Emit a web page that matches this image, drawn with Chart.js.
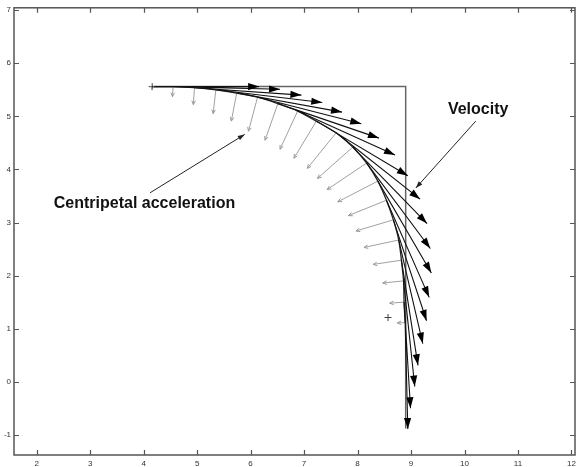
<!DOCTYPE html>
<html>
<head>
<meta charset="utf-8">
<script src="https://cdn.jsdelivr.net/npm/chart.js@4/dist/chart.umd.min.js"></script>
<style>
  html, body { margin: 0; padding: 0; background: #fff; }
  #wrap { width: 583px; height: 467px; }
</style>
</head>
<body>
<div id="wrap"><canvas id="c" width="583" height="467"></canvas></div>
<script>
// ---- data ----
const xTicks = [2, 3, 4, 5, 6, 7, 8, 9, 10, 11, 12];
const yTicks = [-1, 0, 1, 2, 3, 4, 5, 6, 7];

// trajectory points (bases of the vectors)
const trajX = [4.16, 4.55, 4.95, 5.35, 5.74, 6.13, 6.51, 6.88, 7.23, 7.60, 7.91, 8.17, 8.38, 8.54, 8.67, 8.77, 8.82, 8.86, 8.87, 8.89];
const trajY = [5.56, 5.56, 5.54, 5.50, 5.44, 5.36, 5.24, 5.10, 4.91, 4.69, 4.42, 4.12, 3.78, 3.42, 3.05, 2.67, 2.29, 1.90, 1.50, 1.11];

// velocity vectors (tangent)
const velX = [2.00, 2.00, 2.00, 1.99, 1.97, 1.94, 1.89, 1.82, 1.71, 1.57, 1.39, 1.19, 1.00, 0.80, 0.62, 0.45, 0.31, 0.21, 0.12, 0.05];
const velY = [0.00, -0.05, -0.14, -0.24, -0.36, -0.50, -0.65, -0.83, -1.03, -1.25, -1.44, -1.61, -1.73, -1.83, -1.90, -1.95, -1.98, -1.99, -2.00, -2.00];

// centripetal acceleration vectors
const accX = [0.00, -0.01, -0.02, -0.05, -0.10, -0.17, -0.24, -0.33, -0.42, -0.54, -0.66, -0.74, -0.75, -0.71, -0.70, -0.65, -0.53, -0.39, -0.27, -0.15];
const accY = [-0.06, -0.19, -0.32, -0.45, -0.53, -0.64, -0.69, -0.72, -0.70, -0.67, -0.59, -0.50, -0.39, -0.29, -0.21, -0.14, -0.08, -0.04, -0.02, 0.00];

// bracket lines and "+" markers
const boxX = [4.16, 8.90, 8.90];
const boxY = [5.56, 5.56, -0.88];
const markX = [4.16, 8.57];
const markY = [5.56, 1.21];

const labelVelocity = 'Velocity';
const labelAccel = 'Centripetal acceleration';

// ---- build datasets ----
function segs(dx, dy) {
  const out = [];
  trajX.forEach((x, i) => {
    const y = trajY[i];
    out.push({ x: x, y: y }, { x: x + dx[i], y: y + dy[i] }, { x: x + dx[i], y: null });
  });
  return out;
}
const trajPts = trajX.map((x, i) => ({ x: x, y: trajY[i] }));
const boxPts = boxX.map((x, i) => ({ x: x, y: boxY[i] }));
const markPts = markX.map((x, i) => ({ x: x, y: markY[i] }));

const FONT = "'Liberation Sans', Arial, sans-serif";

function head(ctx, x0, y0, x1, y1, len, hw, fill) {
  const dx = x1 - x0, dy = y1 - y0;
  const L = Math.hypot(dx, dy);
  if (L < 0.5) return;
  const ux = dx / L, uy = dy / L;
  const bx = x1 - ux * len, by = y1 - uy * len;
  const px = -uy * hw, py = ux * hw;
  ctx.beginPath();
  if (fill) {
    ctx.moveTo(x1, y1);
    ctx.lineTo(bx + px, by + py);
    ctx.lineTo(bx - px, by - py);
    ctx.closePath();
    ctx.fill();
  } else {
    ctx.moveTo(bx + px, by + py);
    ctx.lineTo(x1, y1);
    ctx.lineTo(bx - px, by - py);
    ctx.stroke();
  }
}

const arrowPlugin = {
  id: 'arrows',
  afterDatasetsDraw(chart) {
    const { ctx, scales: { x, y } } = chart;
    ctx.save();
    // acceleration heads (gray, small)
    ctx.strokeStyle = '#9a9a9a';
    ctx.lineWidth = 1;
    trajX.forEach((tx, i) => {
      const x0 = x.getPixelForValue(tx), y0 = y.getPixelForValue(trajY[i]);
      const x1 = x.getPixelForValue(tx + accX[i]), y1 = y.getPixelForValue(trajY[i] + accY[i]);
      head(ctx, x0, y0, x1, y1, 4, 1.8, false);
    });
    // velocity heads (black, filled)
    ctx.fillStyle = '#000';
    trajX.forEach((tx, i) => {
      const x0 = x.getPixelForValue(tx), y0 = y.getPixelForValue(trajY[i]);
      const x1 = x.getPixelForValue(tx + velX[i]), y1 = y.getPixelForValue(trajY[i] + velY[i]);
      head(ctx, x0, y0, x1, y1, 11, 3.6, true);
    });
    // annotations
    ctx.strokeStyle = '#222';
    ctx.fillStyle = '#222';
    ctx.lineWidth = 1;
    const ann = [
      [10.21, 4.91, 9.09, 3.65],
      [4.12, 3.56, 5.89, 4.66]
    ];
    ann.forEach(a => {
      const x0 = x.getPixelForValue(a[0]), y0 = y.getPixelForValue(a[1]);
      const x1 = x.getPixelForValue(a[2]), y1 = y.getPixelForValue(a[3]);
      ctx.beginPath(); ctx.moveTo(x0, y0); ctx.lineTo(x1, y1); ctx.stroke();
      head(ctx, x0, y0, x1, y1, 7, 2.4, true);
    });
    ctx.fillStyle = '#111';
    ctx.font = 'bold 16px ' + FONT;
    ctx.textAlign = 'left';
    ctx.textBaseline = 'alphabetic';
    ctx.fillText(labelVelocity, x.getPixelForValue(9.69), y.getPixelForValue(5.04));
    ctx.fillText(labelAccel, x.getPixelForValue(2.32), y.getPixelForValue(3.27));
    ctx.restore();
  },
  afterDraw(chart) {
    const { ctx, chartArea: a, scales: { x, y } } = chart;
    ctx.save();
    ctx.strokeStyle = '#555';
    ctx.lineWidth = 1.5;
    ctx.strokeRect(a.left, a.top, a.right - a.left, a.bottom - a.top);
    ctx.lineWidth = 1.2;
    ctx.beginPath();
    xTicks.forEach(v => {
      const p = Math.round(x.getPixelForValue(v)) + 0.5;
      ctx.moveTo(p, a.bottom); ctx.lineTo(p, a.bottom - 5);
      ctx.moveTo(p, a.top); ctx.lineTo(p, a.top + 5);
    });
    yTicks.forEach(v => {
      const p = Math.round(y.getPixelForValue(v)) + 0.5;
      ctx.moveTo(a.left, p); ctx.lineTo(a.left + 5, p);
      ctx.moveTo(a.right, p); ctx.lineTo(a.right - 5, p);
    });
    ctx.stroke();
    ctx.restore();
  }
};

new Chart(document.getElementById('c'), {
  type: 'scatter',
  data: {
    datasets: [
      { label: 'velocity', data: segs(velX, velY), showLine: true, spanGaps: false,
        borderColor: '#111', borderWidth: 1.1, pointRadius: 0, tension: 0 },
      { label: 'trajectory', data: trajPts, showLine: true,
        borderColor: '#222', borderWidth: 1.3, pointRadius: 0, tension: 0.3 },
      { label: 'box', data: boxPts, showLine: true,
        borderColor: '#666', borderWidth: 1.5, pointRadius: 0, tension: 0 },
      { label: 'markers', data: markPts, showLine: false,
        pointStyle: 'cross', pointRadius: 3.5, borderColor: '#444', borderWidth: 1, backgroundColor: '#444' },
      { label: 'acceleration', data: segs(accX, accY), showLine: true, spanGaps: false,
        borderColor: '#a0a0a0', borderWidth: 1, pointRadius: 0, tension: 0 }
    ]
  },
  options: {
    responsive: false,
    animation: false,
    events: [],
    layout: { padding: { top: 6, right: 8, left: 0, bottom: 0 } },
    plugins: { legend: { display: false }, tooltip: { enabled: false } },
    scales: {
      x: {
        type: 'linear', min: 1.576, max: 12.066,
        grid: { display: false, drawTicks: false },
        border: { display: false },
        afterBuildTicks: s => { s.ticks = xTicks.map(v => ({ value: v })); },
        afterFit: s => { s.height = 12; },
        ticks: { autoSkip: false, maxRotation: 0, padding: 4, color: '#333',
                 font: { family: FONT, size: 8 } }
      },
      y: {
        type: 'linear', min: -1.38, max: 7.045,
        grid: { display: false, drawTicks: false },
        border: { display: false },
        afterBuildTicks: s => { s.ticks = yTicks.map(v => ({ value: v })); },
        afterFit: s => { s.width = 14; },
        ticks: { autoSkip: false, padding: 3, color: '#333',
                 font: { family: FONT, size: 8 } }
      }
    }
  },
  plugins: [arrowPlugin]
});
</script>
</body>
</html>
